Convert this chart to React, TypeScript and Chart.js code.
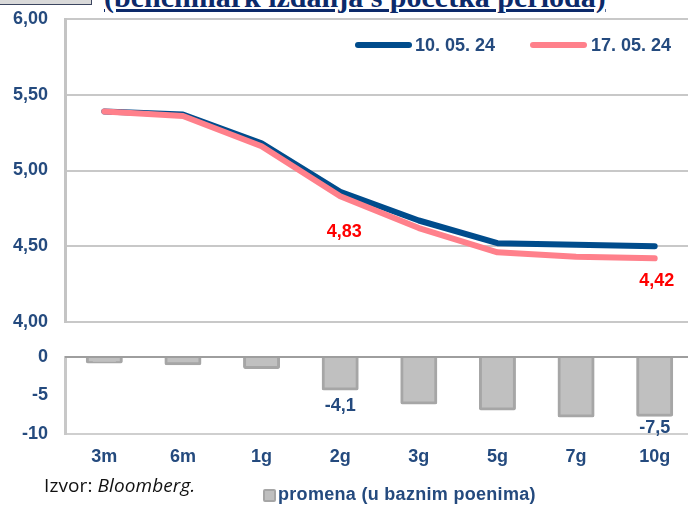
import React, { useEffect, useRef } from 'react';
import { Chart, registerables } from 'chart.js';

Chart.register(...registerables);

const categories = ['3m', '6m', '1g', '2g', '3g', '5g', '7g', '10g'];
const seriesALabel = '10. 05. 24';
const seriesBLabel = '17. 05. 24';
const yieldsA = [5.39, 5.37, 5.18, 4.86, 4.67, 4.52, 4.51, 4.5];
const yieldsB = [5.39, 5.36, 5.16, 4.83, 4.62, 4.46, 4.43, 4.42];
const changeBp = [-0.6, -0.8, -1.3, -4.1, -5.9, -6.7, -7.6, -7.5];
const yieldsBLabels = [null, null, null, '4,83', null, null, null, '4,42'];
const changeLabels = [null, null, null, '-4,1', null, null, null, '-7,5'];
const yieldTicks = [4, 4.5, 5, 5.5, 6];
const changeTicks = [-10, -5, 0];
const barLegend = 'promena (u baznim poenima)';
const sourcePrefix = 'Izvor: ';
const sourceName = 'Bloomberg.';
const titleText = '(benchmark izdanja s početka perioda)';

const NAVY = '#244a7e';
const BLUE = '#004c8c';
const PINK = '#ff808b';
const TICK_FONT = { family: 'Arial, "Liberation Sans", sans-serif', size: 18, weight: 'bold' as const };

const labelPlugin = {
  id: 'valueLabels',
  afterDatasetsDraw(chart: any, _args: any, opts: any) {
    if (!opts || !opts.labels) return;
    const meta = chart.getDatasetMeta(opts.datasetIndex);
    const ctx = chart.ctx;
    ctx.save();
    ctx.font = 'bold 18px Arial, "Liberation Sans", sans-serif';
    ctx.fillStyle = opts.color;
    ctx.textAlign = 'center';
    ctx.textBaseline = 'middle';
    opts.labels.forEach((t: string | null, i: number) => {
      if (!t) return;
      const el = meta.data[i];
      const off = opts.offsets[i] || [0, 0];
      ctx.fillText(t, el.x + off[0], el.y + off[1]);
    });
    ctx.restore();
  },
};

const zeroLinePlugin = {
  id: 'zeroLine',
  afterDatasetsDraw(chart: any, _args: any, opts: any) {
    if (!opts || !opts.color) return;
    const y = chart.scales.y.getPixelForValue(0);
    const { left, right } = chart.chartArea;
    const ctx = chart.ctx;
    ctx.save();
    ctx.strokeStyle = opts.color;
    ctx.lineWidth = opts.width;
    ctx.beginPath();
    ctx.moveTo(left, y);
    ctx.lineTo(right, y);
    ctx.stroke();
    ctx.restore();
  },
};

const fitY = (s: any) => {
  s.width = 65;
  s.paddingTop = 0;
  s.paddingBottom = 0;
};

export default function App() {
  const topRef = useRef<HTMLCanvasElement>(null);
  const botRef = useRef<HTMLCanvasElement>(null);

  useEffect(() => {
    const top = new Chart(topRef.current!, {
      type: 'line',
      data: {
        labels: categories,
        datasets: [
          {
            label: seriesBLabel,
            data: yieldsB,
            borderColor: PINK,
            backgroundColor: PINK,
            borderWidth: 6,
            pointRadius: 0,
            borderCapStyle: 'round',
            borderJoinStyle: 'round',
            order: 0,
          },
          {
            label: seriesALabel,
            data: yieldsA,
            borderColor: BLUE,
            backgroundColor: BLUE,
            borderWidth: 6,
            pointRadius: 0,
            borderCapStyle: 'round',
            borderJoinStyle: 'round',
            order: 1,
          },
        ],
      },
      options: {
        responsive: false,
        animation: false,
        devicePixelRatio: 1,
        layout: { padding: { top: 19, right: 6, bottom: 23, left: 0 } },
        plugins: {
          legend: { display: false },
          tooltip: { enabled: false },
          valueLabels: {
            datasetIndex: 0,
            labels: yieldsBLabels,
            color: '#ff0000',
            offsets: { 3: [4, 36], 7: [2, 23] },
          },
        } as any,
        scales: {
          x: { type: 'category', offset: true, display: false },
          y: {
            min: 4,
            max: 6,
            afterBuildTicks: (s: any) => {
              s.ticks = yieldTicks.map((v) => ({ value: v }));
            },
            afterFit: fitY,
            ticks: {
              font: TICK_FONT,
              color: NAVY,
              padding: 17,
              callback: (v: any) => Number(v).toFixed(2).replace('.', ','),
            },
            grid: { color: '#c8c8c8', lineWidth: 2, drawTicks: false },
            border: { display: true, color: '#c4c4c4', width: 3 },
          },
        },
      },
      plugins: [labelPlugin],
    });

    const bot = new Chart(botRef.current!, {
      type: 'bar',
      data: {
        labels: categories,
        datasets: [
          {
            label: barLegend,
            data: changeBp,
            backgroundColor: '#c0c0c0',
            borderColor: '#a6a6a6',
            borderWidth: 3,
            borderSkipped: false,
            borderRadius: 2,
            inflateAmount: 2,
            barPercentage: 0.42,
            categoryPercentage: 1,
          } as any,
        ],
      },
      options: {
        responsive: false,
        animation: false,
        devicePixelRatio: 1,
        layout: { padding: { top: 17, right: 6, bottom: 0, left: 0 } },
        plugins: {
          legend: { display: false },
          tooltip: { enabled: false },
          valueLabels: {
            datasetIndex: 0,
            labels: changeLabels,
            color: NAVY,
            offsets: { 3: [0, 17], 7: [0, 13] },
          },
          zeroLine: { color: '#9e9e9e', width: 2 },
        } as any,
        scales: {
          x: {
            type: 'category',
            offset: true,
            afterFit: (s: any) => {
              s.height = 46;
            },
            ticks: { font: TICK_FONT, color: NAVY, padding: 12, maxRotation: 0 },
            grid: { display: false, drawTicks: false },
            border: { display: true, color: '#cfcfcf', width: 2 },
          },
          y: {
            min: -10,
            max: 0,
            afterBuildTicks: (s: any) => {
              s.ticks = changeTicks.map((v) => ({ value: v }));
            },
            afterFit: fitY,
            ticks: {
              font: TICK_FONT,
              color: NAVY,
              padding: 17,
              callback: (v: any) => String(v),
            },
            grid: { display: false, drawTicks: false },
            border: { display: true, color: '#c8c8c8', width: 3 },
          },
        },
      },
      plugins: [labelPlugin, zeroLinePlugin],
    });

    return () => {
      top.destroy();
      bot.destroy();
    };
  }, []);

  const legendText: React.CSSProperties = {
    position: 'absolute',
    font: 'bold 18px Arial, "Liberation Sans", sans-serif',
    lineHeight: '18px',
    color: NAVY,
    whiteSpace: 'nowrap',
  };

  return (
    <div
      style={{
        position: 'fixed',
        left: 0,
        top: 0,
        width: 688,
        height: 505,
        overflow: 'hidden',
        background: '#ffffff',
      }}
    >
      <div
        style={{
          position: 'absolute',
          left: -4,
          top: -22,
          width: 94,
          height: 25,
          background: '#d9d9d9',
          border: '1.5px solid #3c4660',
        }}
      />
      <div
        style={{
          position: 'absolute',
          left: 104,
          top: -18,
          font: 'bold 30px "Liberation Serif", "Times New Roman", serif',
          lineHeight: '30px',
          color: '#0c2a6a',
          textDecoration: 'underline',
          whiteSpace: 'nowrap',
        }}
      >
        {titleText}
      </div>
      <canvas
        ref={topRef}
        width={700}
        height={345}
        style={{ position: 'absolute', left: 0, top: 0, width: 700, height: 345 }}
      />
      <canvas
        ref={botRef}
        width={700}
        height={140}
        style={{ position: 'absolute', left: 0, top: 340, width: 700, height: 140 }}
      />
      <div
        style={{
          position: 'absolute',
          left: 355,
          top: 41.7,
          width: 57,
          height: 6,
          borderRadius: 3,
          background: BLUE,
        }}
      />
      <div style={{ ...legendText, left: 415, top: 35.5 }}>{seriesALabel}</div>
      <div
        style={{
          position: 'absolute',
          left: 530,
          top: 41.7,
          width: 57,
          height: 6,
          borderRadius: 3,
          background: PINK,
        }}
      />
      <div style={{ ...legendText, left: 591, top: 35.5 }}>{seriesBLabel}</div>
      <div
        style={{
          position: 'absolute',
          left: 263,
          top: 489,
          width: 9,
          height: 9,
          borderRadius: 2,
          background: '#bfbfbf',
          border: '2px solid #a6a6a6',
        }}
      />
      <div style={{ ...legendText, left: 278, top: 485, letterSpacing: '0.3px' }}>{barLegend}</div>
      <div
        style={{
          position: 'absolute',
          left: 44,
          top: 476,
          font: '19px "Open Sans", Lato, sans-serif',
          lineHeight: '19px',
          letterSpacing: '0.1px',
          color: '#111111',
          whiteSpace: 'nowrap',
        }}
      >
        {sourcePrefix}
        <i>{sourceName}</i>
      </div>
    </div>
  );
}
